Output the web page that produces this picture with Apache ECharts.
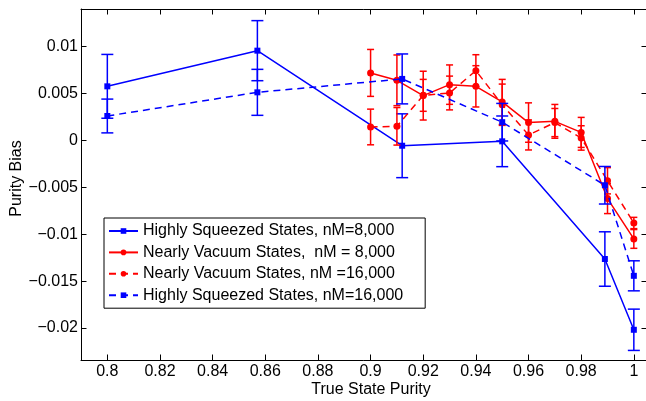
<!DOCTYPE html>
<html><head><meta charset="utf-8">
<script src="https://cdn.jsdelivr.net/npm/echarts@6/dist/echarts.min.js"></script>
<style>html,body{margin:0;padding:0;background:#fff}#c{width:646px;height:401px}</style>
</head><body><div id="c"></div>
<script>
// ---- data ----
const xTicks = [0.8, 0.82, 0.84, 0.86, 0.88, 0.9, 0.92, 0.94, 0.96, 0.98, 1];
const xTickLabels = ['0.8', '0.82', '0.84', '0.86', '0.88', '0.9', '0.92', '0.94', '0.96', '0.98', '1'];
const yTicks = [-0.02, -0.015, -0.01, -0.005, 0, 0.005, 0.01];
const yTickLabels = ['\u22120.02', '\u22120.015', '\u22120.01', '\u22120.005', '0', '0.005', '0.01'];

const seriesNames = [
  'Highly Squeezed States, nM=8,000',
  'Nearly Vacuum States,  nM = 8,000',
  'Nearly Vacuum States, nM =16,000',
  'Highly Squeezed States, nM=16,000'
];

const xSqueezed = [0.8, 0.857, 0.912, 0.95, 0.989, 1];
const squeezed8k = [0.00576, 0.00956, -0.00057, -0.0001, -0.01264, -0.02018];
const squeezed8kErr = [0.0034, 0.0032, 0.0034, 0.0027, 0.0029, 0.0022];
const squeezed16k = [0.0026, 0.00512, 0.00655, 0.00194, -0.00478, -0.01443];
const squeezed16kErr = [0.0018, 0.00245, 0.00266, 0.002, 0.002, 0.0016];

const xVacuum = [0.9, 0.91, 0.92, 0.93, 0.94, 0.95, 0.96, 0.97, 0.98, 0.99, 1];
const vacuum8k = [0.00719, 0.0064, 0.00477, 0.00594, 0.00576, 0.0041, 0.0019, 0.00203, 0.00085, -0.0062, -0.0105];
const vacuum8kErr = [0.0025, 0.0027, 0.0026, 0.0021, 0.0022, 0.0024, 0.0021, 0.0018, 0.0016, 0.0016, 0.001];
const vacuum16k = [0.00143, 0.0015, 0.0048, 0.00505, 0.00743, 0.0038, 0.00058, 0.0019, 0.00026, -0.0043, -0.0088];
const vacuum16kErr = [0.0019, 0.002, 0.0017, 0.0018, 0.0017, 0.0022, 0.0016, 0.0015, 0.0013, 0.0014, 0.0006];

// ---- chart ----
const FONT = 'Liberation Sans, Arial, Helvetica, sans-serif';
const BLUE = '#0000ff', RED = '#ff0000';

function pts(xs, ys) { return xs.map((x, i) => [x, ys[i]]); }
function errPts(xs, ys, es) { return xs.map((x, i) => [x, ys[i], es[i]]); }

function errRender(capHalf, color) {
  return function (params, api) {
    const x = api.value(0), y = api.value(1), e = api.value(2);
    const t = api.coord([x, y + e]), b = api.coord([x, y - e]);
    const style = { stroke: color, lineWidth: 1.5, fill: null };
    return {
      type: 'group', children: [
        { type: 'line', shape: { x1: t[0], y1: t[1], x2: b[0], y2: b[1] }, style },
        { type: 'line', shape: { x1: t[0] - capHalf, y1: t[1], x2: t[0] + capHalf, y2: t[1] }, style },
        { type: 'line', shape: { x1: b[0] - capHalf, y1: b[1], x2: b[0] + capHalf, y2: b[1] }, style }
      ]
    };
  };
}

function lineSeries(name, xs, ys, color, symbol, size, dashed, z) {
  return {
    name, type: 'line', data: pts(xs, ys), z,
    symbol, symbolSize: size, showSymbol: true,
    itemStyle: { color, borderWidth: 0 },
    lineStyle: { color, width: 1.5, type: dashed ? [7, 5] : 'solid' },
    emphasis: { disabled: true }
  };
}
function errSeries(xs, ys, es, color, capHalf, z) {
  return {
    type: 'custom', data: errPts(xs, ys, es), z,
    renderItem: errRender(capHalf, color),
    encode: { x: 0, y: 1 }, silent: true
  };
}

const axisCommon = {
  axisLine: { show: true, onZero: false, lineStyle: { color: '#000', width: 1 } },
  splitLine: { show: false }
};

const option = {
  animation: false,
  backgroundColor: '#fff',
  textStyle: { fontFamily: FONT },
  grid: { left: 81, top: 9, width: 566, height: 351, containLabel: false, outerBoundsMode: 'none' },
  legend: {
    data: seriesNames,
    orient: 'vertical', left: 104, top: 218,
    itemWidth: 29, itemHeight: 7, itemGap: 5.4,
    padding: [5, 22, 5, 4],
    borderColor: '#000', borderWidth: 1, borderRadius: 0,
    backgroundColor: '#fff',
    textStyle: { fontSize: 16, color: '#000', fontFamily: FONT }
  },
  xAxis: [{
    type: 'value', min: 0.79, max: 1.005, position: 'bottom',
    ...axisCommon,
    axisTick: { show: true, inside: true, length: 5.5, customValues: xTicks, lineStyle: { color: '#000' } },
    axisLabel: {
      customValues: xTicks, margin: 4, fontSize: 16, color: '#000', fontFamily: FONT,
      formatter: v => { const i = xTicks.findIndex(t => Math.abs(t - v) < 1e-9); return i >= 0 ? xTickLabels[i] : ''; }
    },
    name: 'True State Purity', nameLocation: 'middle', nameGap: 22, nameMoveOverlap: false,
    nameTextStyle: { fontSize: 16, color: '#000', fontFamily: FONT, padding: [0, 0, 0, 14] }
  }, {
    type: 'value', min: 0.79, max: 1.005, position: 'top',
    ...axisCommon,
    axisTick: { show: true, inside: true, length: 5.5, customValues: xTicks, lineStyle: { color: '#000' } },
    axisLabel: { show: false }
  }],
  yAxis: [{
    type: 'value', min: -0.0234, max: 0.014, position: 'left',
    ...axisCommon,
    axisTick: { show: true, inside: true, length: 5.5, customValues: yTicks, lineStyle: { color: '#000' } },
    axisLabel: {
      customValues: yTicks, margin: 3, fontSize: 16, color: '#000', fontFamily: FONT,
      formatter: v => { const i = yTicks.findIndex(t => Math.abs(t - v) < 1e-9); return i >= 0 ? yTickLabels[i] : ''; }
    },
    name: 'Purity Bias', nameLocation: 'middle', nameGap: 56, nameRotate: 90, nameMoveOverlap: false,
    nameTextStyle: { fontSize: 16, color: '#000', fontFamily: FONT, padding: [0, 0, 0, 12] }
  }, {
    type: 'value', min: -0.0234, max: 0.014, position: 'right',
    ...axisCommon,
    axisTick: { show: true, inside: true, length: 5.5, customValues: yTicks, lineStyle: { color: '#000' } },
    axisLabel: { show: false }
  }],
  series: [
    lineSeries(seriesNames[0], xSqueezed, squeezed8k, BLUE, 'rect', 6, false, 2),
    errSeries(xSqueezed, squeezed8k, squeezed8kErr, BLUE, 6, 2),
    lineSeries(seriesNames[1], xVacuum, vacuum8k, RED, 'circle', 7, false, 3),
    errSeries(xVacuum, vacuum8k, vacuum8kErr, RED, 3.5, 3),
    lineSeries(seriesNames[2], xVacuum, vacuum16k, RED, 'circle', 7, true, 4),
    errSeries(xVacuum, vacuum16k, vacuum16kErr, RED, 3.5, 4),
    lineSeries(seriesNames[3], xSqueezed, squeezed16k, BLUE, 'rect', 6, true, 5),
    errSeries(xSqueezed, squeezed16k, squeezed16kErr, BLUE, 6, 5)
  ]
};

const chart = echarts.init(document.getElementById('c'), null, { renderer: 'canvas' });
chart.setOption(option);
</script>
</body></html>
